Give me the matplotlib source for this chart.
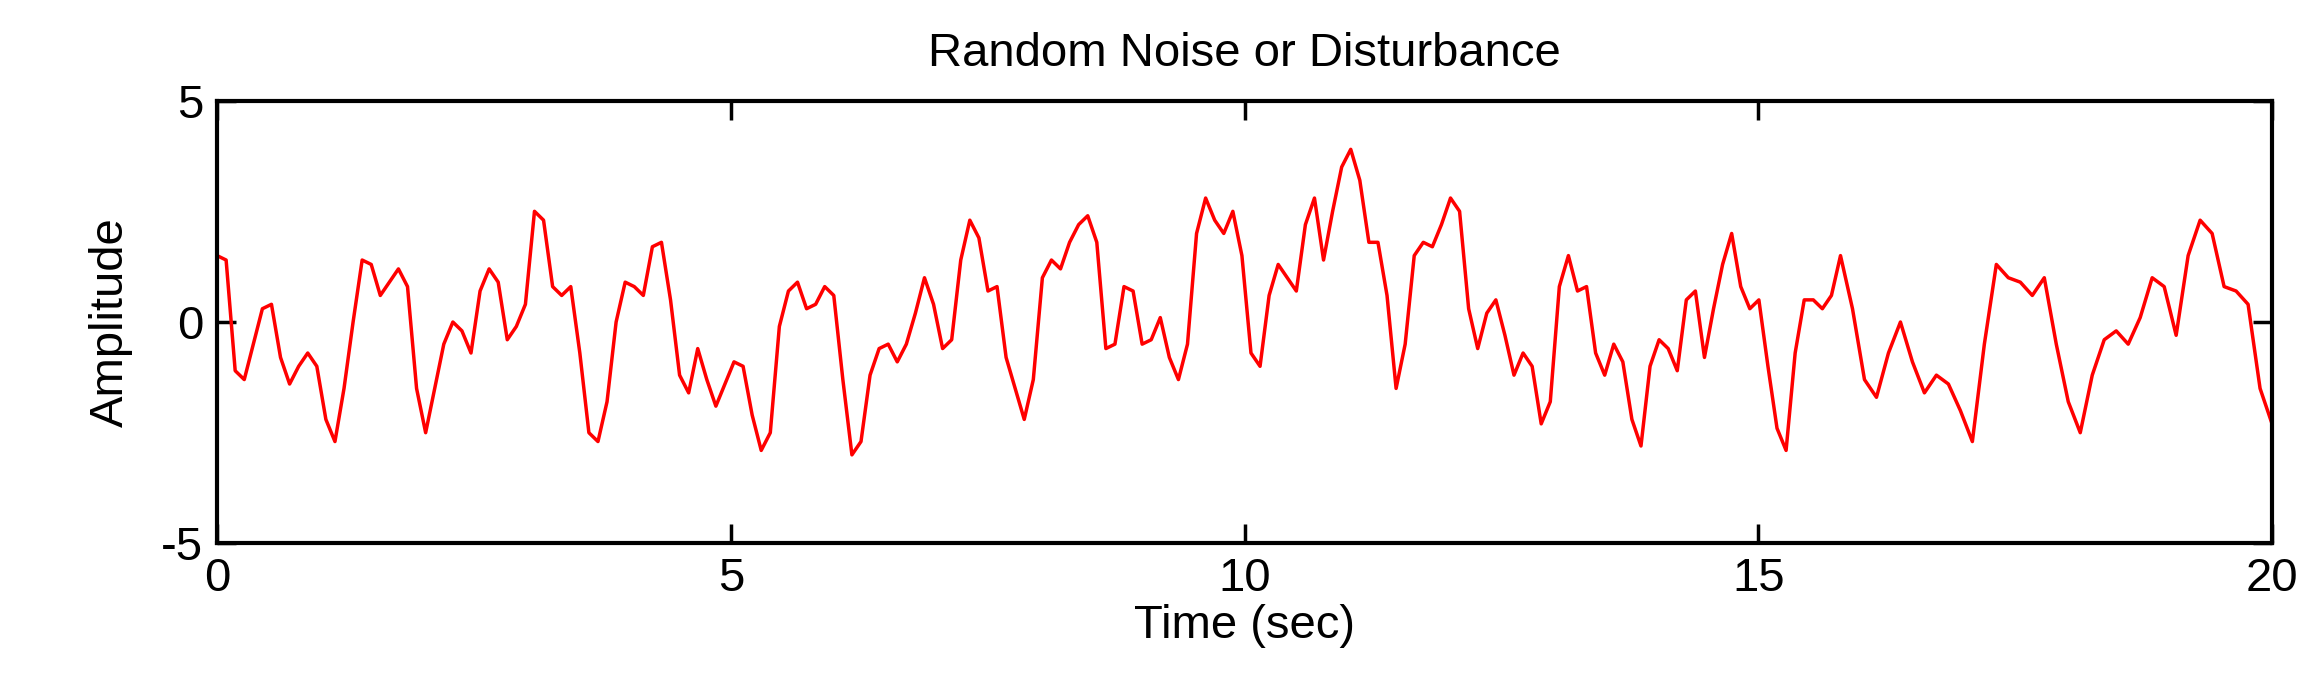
import numpy as np
import matplotlib.pyplot as plt

plt.rcParams['font.family'] = ['Liberation Sans', 'DejaVu Sans']
plt.rcParams['axes.unicode_minus'] = False

# amplitude samples
amplitude = [
    1.5, 1.4, -1.1, -1.3, -0.5, 0.3, 0.4, -0.8, -1.4, -1.0, -0.7, -1.0, -2.2, -2.7,
    -1.5, 0.0, 1.4, 1.3, 0.6, 0.9, 1.2, 0.8, -1.5, -2.5, -1.5, -0.5, 0.0, -0.2,
    -0.7, 0.7, 1.2, 0.9, -0.4, -0.1, 0.4, 2.5, 2.3, 0.8, 0.6, 0.8, -0.7, -2.5,
    -2.7, -1.8, 0.0, 0.9, 0.8, 0.6, 1.7, 1.8, 0.5, -1.2, -1.6, -0.6, -1.3, -1.9,
    -1.4, -0.9, -1.0, -2.1, -2.9, -2.5, -0.1, 0.7, 0.9, 0.3, 0.4, 0.8, 0.6, -1.3,
    -3.0, -2.7, -1.2, -0.6, -0.5, -0.9, -0.5, 0.2, 1.0, 0.4, -0.6, -0.4, 1.4, 2.3,
    1.9, 0.7, 0.8, -0.8, -1.5, -2.2, -1.3, 1.0, 1.4, 1.2, 1.8, 2.2, 2.4, 1.8,
    -0.6, -0.5, 0.8, 0.7, -0.5, -0.4, 0.1, -0.8, -1.3, -0.5, 2.0, 2.8, 2.3, 2.0,
    2.5, 1.5, -0.7, -1.0, 0.6, 1.3, 1.0, 0.7, 2.2, 2.8, 1.4, 2.5, 3.5, 3.9,
    3.2, 1.8, 1.8, 0.6, -1.5, -0.5, 1.5, 1.8, 1.7, 2.2, 2.8, 2.5, 0.3, -0.6,
    0.2, 0.5, -0.3, -1.2, -0.7, -1.0, -2.3, -1.8, 0.8, 1.5, 0.7, 0.8, -0.7, -1.2,
    -0.5, -0.9, -2.2, -2.8, -1.0, -0.4, -0.6, -1.1, 0.5, 0.7, -0.8, 0.3, 1.3, 2.0,
    0.8, 0.3, 0.5, -1.0, -2.4, -2.9, -0.7, 0.5, 0.5, 0.3, 0.6, 1.5, 0.3, -1.3,
    -1.7, -0.7, 0.0, -0.9, -1.6, -1.2, -1.4, -2.0, -2.7, -0.5, 1.3, 1.0, 0.9, 0.6,
    1.0, -0.5, -1.8, -2.5, -1.2, -0.4, -0.2, -0.5, 0.1, 1.0, 0.8, -0.3, 1.5, 2.3,
    2.0, 0.8, 0.7, 0.4, -1.5, -2.3,
]
# first 180 samples span 0..15.8 s, the rest 15.8..20 s
time = np.concatenate([np.linspace(0, 15.8, 180),
                       np.linspace(15.8, 20, len(amplitude) - 179)[1:]])

fig = plt.figure(figsize=(23.09, 6.94), dpi=100)
ax = fig.add_axes([0.094, 0.217, 0.89, 0.638])
ax.plot(time, amplitude, color='red', lw=2.5)

ax.set_xlim(0, 20)
ax.set_ylim(-5, 5)
ax.set_xticks([0, 5, 10, 15, 20])
ax.set_yticks([-5, 0, 5])
ax.tick_params(direction='in', length=14, width=2.5, labelsize=34, pad=10,
               top=True, right=True)
for s in ax.spines.values():
    s.set_linewidth(3)

ax.set_title('Random Noise or Disturbance', fontsize=34, pad=25)
ax.set_xlabel('Time (sec)', fontsize=34, labelpad=2)
ax.set_ylabel('Amplitude', fontsize=34, labelpad=20)

fig.savefig('out.png', dpi=100)
